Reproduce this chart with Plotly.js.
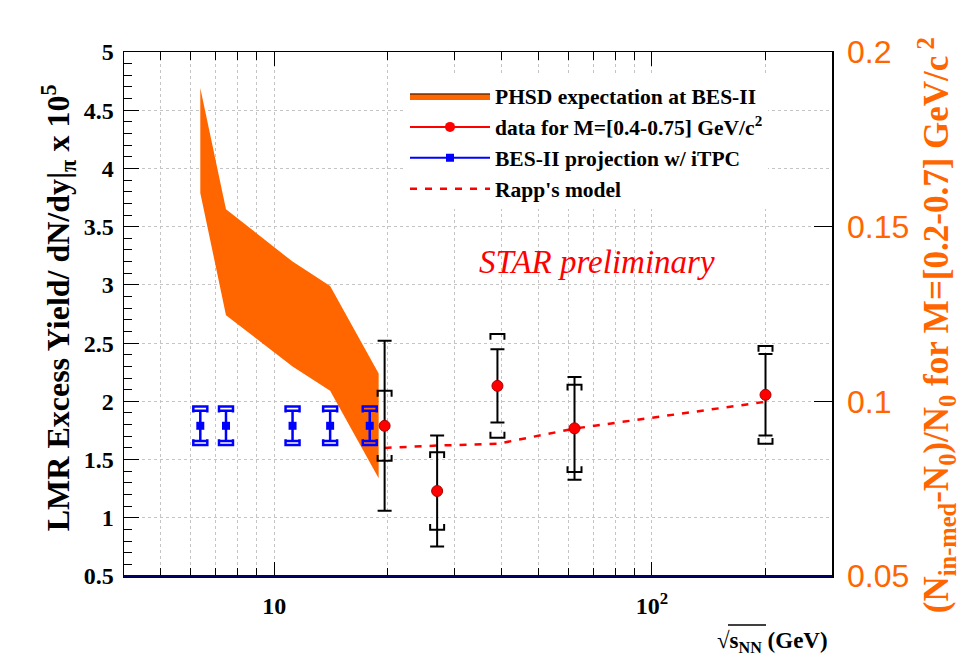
<!DOCTYPE html>
<html><head><meta charset="utf-8">
<script src="https://cdn.plot.ly/plotly-3.0.1.min.js"></script>
<style>body{margin:0;background:#fff}#chart{width:966px;height:670px}</style>
</head><body><div id="chart"></div>
<script>
// ---- PHSD expectation band ----
const phsdEnergy = [6.37, 7.45, 11.18, 14.06, 18.9];
const phsdUpper  = [4.69, 3.65, 3.20, 2.99, 2.24];
const phsdLower  = [3.79, 2.74, 2.30, 2.09, 1.34];
// ---- STAR data, M=[0.4-0.75] GeV/c2 ----
const dataEnergy = [19.6, 27, 39, 62.4, 200];
const dataYield  = [1.79, 1.23, 2.133, 1.768, 2.056];
const dataStat   = [0.73, 0.476, 0.315, 0.442, 0.35];
const dataSys    = [0.30, 0.333, 0.445, 0.375, 0.42];
// ---- BES-II projection w/ iTPC ----
const besEnergy = [6.37, 7.45, 11.18, 14.06, 17.9];
const besYield  = [1.79, 1.79, 1.79, 1.79, 1.79];
const besStat   = [0.13, 0.13, 0.13, 0.13, 0.13];
const besSys    = [0.165, 0.165, 0.165, 0.165, 0.165];
// ---- Rapp's model ----
const rappEnergy = [19.6, 27, 39, 62.4, 200];
const rappYield  = [1.60, 1.62, 1.635, 1.766, 1.996];
// ---- axis ticks ----
const xTickVals  = [10, 100];
const xTickText  = ['10', '10<sup>2</sup>'];
const xMinorVals = [5, 6, 7, 8, 9, 20, 30, 40, 50, 60, 70, 80, 90, 200];
const yTickVals  = [0.5, 1, 1.5, 2, 2.5, 3, 3.5, 4, 4.5, 5];
const yTickText  = ['0.5', '1', '1.5', '2', '2.5', '3', '3.5', '4', '4.5', '5'];
const y2TickVals = [0.05, 0.1, 0.15, 0.2];
const y2TickText = ['0.05', '0.1', '0.15', '0.2'];

// style constants
const ORANGE = '#ff6600';
const BR_HALF = Math.pow(10, 7 / 378);   // bracket half-width (multiplicative on log axis)
const BR_TICK = 0.05;                     // bracket tick length (y units)

function brackets(xs, ys, errs) {
  const bx = [], by = [];
  xs.forEach((x, i) => {
    const top = ys[i] + errs[i], bot = ys[i] - errs[i];
    bx.push(x / BR_HALF, x / BR_HALF, x * BR_HALF, x * BR_HALF, null);
    by.push(top - BR_TICK, top, top, top - BR_TICK, null);
    bx.push(x / BR_HALF, x / BR_HALF, x * BR_HALF, x * BR_HALF, null);
    by.push(bot + BR_TICK, bot, bot, bot + BR_TICK, null);
  });
  return {x: bx, y: by};
}

const serif = 'Liberation Serif, Times New Roman, serif';
const traces = [];

// PHSD band
traces.push({
  x: phsdEnergy.concat(phsdEnergy.slice().reverse()),
  y: phsdUpper.concat(phsdLower.slice().reverse()),
  type: 'scatter', mode: 'lines', fill: 'toself', fillcolor: ORANGE,
  line: {color: ORANGE, width: 0}, hoverinfo: 'skip', showlegend: false
});
// Rapp's model
traces.push({
  x: rappEnergy, y: rappYield, type: 'scatter', mode: 'lines',
  line: {color: '#ff0000', width: 2.5, dash: '7px,8px'},
  name: "Rapp's model", legendrank: 4
});
// BES-II brackets
const bb = brackets(besEnergy, besYield, besSys);
traces.push({x: bb.x, y: bb.y, type: 'scatter', mode: 'lines',
  line: {color: '#0000ff', width: 2.5}, showlegend: false, hoverinfo: 'skip'});
traces.push({
  x: besEnergy, y: besYield, type: 'scatter', mode: 'markers',
  marker: {symbol: 'square', size: 8, color: '#0000ff'},
  error_y: {type: 'data', array: besStat, color: '#0000ff', thickness: 2.5, width: 7},
  showlegend: false
});
// data brackets
const db = brackets(dataEnergy, dataYield, dataSys);
traces.push({x: db.x, y: db.y, type: 'scatter', mode: 'lines',
  line: {color: '#000000', width: 2}, showlegend: false, hoverinfo: 'skip'});
traces.push({
  x: dataEnergy, y: dataYield, type: 'scatter', mode: 'markers',
  marker: {symbol: 'circle', size: 11, color: '#ff0000', line: {color: '#aa0000', width: 1}},
  error_y: {type: 'data', array: dataStat, color: '#000000', thickness: 2, width: 7},
  showlegend: false
});
// legend entries
traces.push({x: [null], y: [null], type: 'scatter', mode: 'lines', fill: 'toself',
  fillcolor: ORANGE, line: {color: '#000000', width: 1},
  name: 'PHSD expectation at BES-II', legendrank: 1});
traces.push({x: [null], y: [null], type: 'scatter', mode: 'lines+markers',
  line: {color: '#ff0000', width: 2}, marker: {symbol: 'circle', size: 10, color: '#ff0000'},
  name: 'data for M=[0.4-0.75] GeV/c<sup>2</sup>', legendrank: 2});
traces.push({x: [null], y: [null], type: 'scatter', mode: 'lines+markers',
  line: {color: '#0000ff', width: 2}, marker: {symbol: 'square', size: 8, color: '#0000ff'},
  name: 'BES-II projection w/ iTPC', legendrank: 3});
// right-hand axis carrier
traces.push({x: [null], y: [null], yaxis: 'y2', type: 'scatter', mode: 'markers',
  showlegend: false, hoverinfo: 'skip'});

const W = 708, H = 524.5, L = 124, T = 51.5;
function px(x) { return (x - L) / W; }
function py(y) { return (T + H - y) / H; }

const layout = {
  width: 966, height: 670,
  margin: {l: 124, r: 134, t: 51.5, b: 94},
  paper_bgcolor: '#ffffff', plot_bgcolor: '#ffffff',
  showlegend: true,
  legend: {
    x: px(405), y: py(75), xanchor: 'left', yanchor: 'top',
    bgcolor: '#ffffff', borderwidth: 0,
    font: {family: serif, size: 21.5, color: '#000000', weight: 'bold'},
    itemwidth: 80, tracegroupgap: 12, traceorder: 'normal'
  },
  xaxis: {
    type: 'log', range: [Math.log10(4), Math.log10(300)],
    tickmode: 'array', tickvals: xTickVals, ticktext: xTickText,
    ticks: 'inside', ticklen: 14, tickwidth: 1, tickcolor: '#000',
    tickfont: {family: serif, size: 24, color: '#000', weight: 'bold'},
    ticklabelstandoff: 8,
    showline: true, linecolor: '#000', linewidth: 1.5, mirror: 'ticks',
    showgrid: true, gridcolor: '#c4c4c4', griddash: 'dot', gridwidth: 1,
    zeroline: false,
    minor: {tickmode: 'array', tickvals: xMinorVals, ticks: 'inside', ticklen: 8,
            tickcolor: '#000', showgrid: true, gridcolor: '#c4c4c4', griddash: 'dot', gridwidth: 1}
  },
  yaxis: {
    range: [0.5, 5], tickmode: 'array', tickvals: yTickVals, ticktext: yTickText,
    ticks: 'inside', ticklen: 15, tickcolor: '#000',
    tickfont: {family: serif, size: 24, color: '#000', weight: 'bold'},
    ticklabelstandoff: 4,
    showline: true, linecolor: '#000', linewidth: 1.5, mirror: true,
    showgrid: true, gridcolor: '#c4c4c4', griddash: 'dot', gridwidth: 1,
    zeroline: false,
    minor: {dtick: 0.1, ticks: 'inside', ticklen: 8, tickcolor: '#000', showgrid: false}
  },
  yaxis2: {
    overlaying: 'y', side: 'right', range: [0.05, 0.2],
    tickmode: 'array', tickvals: y2TickVals, ticktext: y2TickText,
    ticks: 'inside', ticklen: 18, tickcolor: '#000',
    tickfont: {family: 'Liberation Sans, Arial, sans-serif', size: 32, color: ORANGE},
    ticklabelstandoff: 14,
    showline: false, showgrid: false, zeroline: false
  },
  shapes: [
    {type: 'line', xref: 'paper', yref: 'paper', x0: 0, x1: 1, y0: 0, y1: 0,
     line: {color: '#000066', width: 2}},
    {type: 'line', xref: 'paper', yref: 'paper', x0: px(728), x1: px(766), y0: py(625), y1: py(625),
     line: {color: '#000', width: 1.5}}
  ],
  annotations: [
    {text: '<b>LMR Excess Yield/ dN/dy|<sub>π</sub> x 10<sup>5</sup></b>',
     xref: 'paper', yref: 'paper', x: px(58), y: py(308), textangle: -90,
     xanchor: 'center', yanchor: 'middle', showarrow: false,
     font: {family: serif, size: 32, color: '#000'}},
    {text: '<b>(N<sub>in-med</sub>-N<sub>0</sub>)/N<sub>0</sub> for M=[0.2-0.7] GeV/c<sup> 2</sup></b>',
     xref: 'paper', yref: 'paper', x: px(936), y: py(325), textangle: -90,
     xanchor: 'center', yanchor: 'middle', showarrow: false,
     font: {family: serif, size: 35, color: ORANGE}},
    {text: '<b>√s<sub>NN</sub> (GeV)</b>',
     xref: 'paper', yref: 'paper', x: px(830), y: py(642),
     xanchor: 'right', yanchor: 'middle', showarrow: false,
     font: {family: serif, size: 23, color: '#000'}},
    {text: '<i>STAR preliminary</i>',
     xref: 'paper', yref: 'paper', x: px(597), y: py(262),
     xanchor: 'center', yanchor: 'middle', showarrow: false,
     font: {family: serif, size: 33, color: '#ff0000'}}
  ]
};

Plotly.newPlot('chart', traces, layout, {displayModeBar: false, staticPlot: true});
</script>
</body></html>
